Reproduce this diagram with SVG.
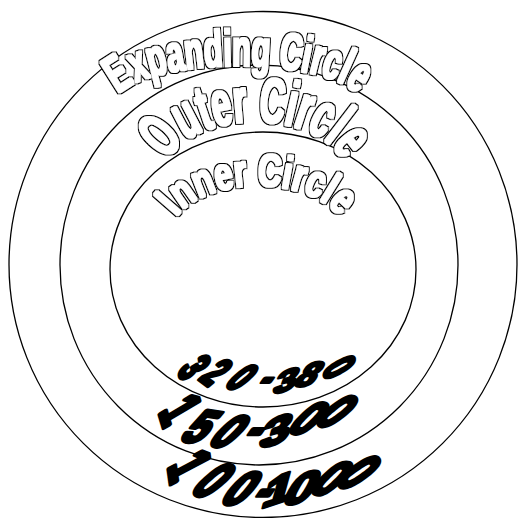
<svg xmlns="http://www.w3.org/2000/svg" xmlns:xlink="http://www.w3.org/1999/xlink" width="518" height="518" viewBox="0 0 518 518">
  <style>
    .ring { fill: none; stroke: #000; stroke-width: 1.3; }
    .arch { font-family: "Liberation Sans", Arial, sans-serif; font-weight: bold; fill: #000; filter: url(#heavyOutline); }
    .num { font-family: "Liberation Sans", Arial, sans-serif; font-weight: bold; fill: #000; stroke: #000; stroke-linejoin: round; }
  </style>
  <defs>
    <filter id="heavyOutline" x="-10%" y="-20%" width="120%" height="140%">
      <feMorphology in="SourceAlpha" operator="dilate" radius="2" result="outer"/>
      <feMorphology in="SourceAlpha" operator="dilate" radius="0.9" result="inner"/>
      <feFlood flood-color="#000" result="blk"/>
      <feComposite in="blk" in2="outer" operator="in" result="ring"/>
      <feFlood flood-color="#fff" result="wht"/>
      <feComposite in="wht" in2="inner" operator="in" result="face"/>
      <feMerge>
        <feMergeNode in="ring"/>
        <feMergeNode in="face"/>
      </feMerge>
    </filter>
    <path id="arcExpanding" d="M 113 106 A 125 40 0 0 1 363 106"/>
    <path id="arcOuter" d="M 165 174 A 90 52 0 0 1 345 174"/>
    <path id="arcInner" d="M 170 236 A 88 50 0 0 1 346 236"/>
  </defs>
  <rect x="0" y="0" width="518" height="518" fill="#fff"/>
  <g id="expanding-circle">
    <ellipse class="ring" cx="263" cy="264.5" rx="254" ry="253"/>
  </g>
  <g id="outer-circle">
    <ellipse class="ring" cx="259" cy="265" rx="199" ry="200"/>
  </g>
  <g id="inner-circle">
    <ellipse class="ring" cx="263" cy="269.5" rx="153" ry="137.5"/>
  </g>
  <g id="labels">
    <text class="arch" font-size="52"><textPath href="#arcExpanding" startOffset="50%" text-anchor="middle" textLength="250" lengthAdjust="spacingAndGlyphs">Expanding Circle</textPath></text>
    <text class="arch" font-size="64"><textPath href="#arcOuter" startOffset="50%" text-anchor="middle" textLength="200" lengthAdjust="spacingAndGlyphs">Outer Circle</textPath></text>
    <text class="arch" font-size="46"><textPath href="#arcInner" startOffset="50%" text-anchor="middle" textLength="180" lengthAdjust="spacingAndGlyphs">Inner Circle</textPath></text>
  </g>
  <g id="numbers" transform="skewX(-35)">
    <text class="num" font-size="34" stroke-width="3.4" x="436.6 463.6 493.1 528.3 548.0 562.4 581.5" y="368.7 378.8 383.8 389.5 394.6 386.2 367.6" rotate="46 26 26 0 -19 0 50">320-380</text>
    <text class="num" font-size="44" stroke-width="4" x="447.5 485.9 516.4 551.4 572.9 586.3 607.2" y="411.8 439.9 442.5 443.3 449.3 429.5 418.5" rotate="45 8 17 0 -23 17 30">150-300</text>
    <text class="num" font-size="46" stroke-width="4" x="494.7 532.3 569.7 602.7 616.3 633.2 650.6 670.4" y="466 489.2 502.5 504.9 508.6 504.9 490.0 477.8" rotate="50 26 8 0 -23 -7 17 36">100-1000</text>
  </g>
</svg>
